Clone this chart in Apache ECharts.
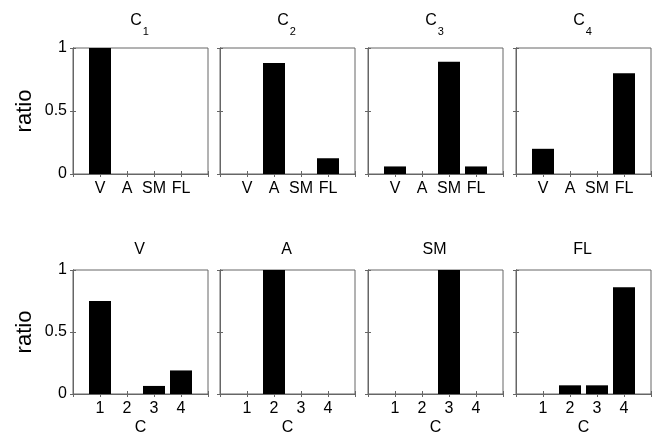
<!DOCTYPE html>
<html>
<head>
<meta charset="utf-8">
<script src="https://cdn.jsdelivr.net/npm/echarts@6/dist/echarts.min.js"></script>
<style>
  html, body { margin: 0; padding: 0; background: #fff; }
  #chart { width: 660px; height: 437px; }
</style>
</head>
<body>
<div id="chart"></div>
<script>
// top row: share of each behaviour inside cluster C1..C4
const behaviours = ["V", "A", "SM", "FL"];
const clusterIds = ["1", "2", "3", "4"];
const c1 = [1, 0, 0, 0];
const c2 = [0, 0.88, 0, 0.125];
const c3 = [0.06, 0, 0.89, 0.06];
const c4 = [0.2, 0, 0, 0.8];
// bottom row: share of each cluster inside behaviour V, A, SM, FL
const bV = [0.75, 0, 0.065, 0.19];
const bA = [0, 1, 0, 0];
const bSM = [0, 0, 1, 0];
const bFL = [0, 0.07, 0.07, 0.86];
const yTicks = [0, 0.5, 1];

const panels = [
  { title: "C{s|1}", data: c1, labels: behaviours, row: 0, col: 0 },
  { title: "C{s|2}", data: c2, labels: behaviours, row: 0, col: 1 },
  { title: "C{s|3}", data: c3, labels: behaviours, row: 0, col: 2 },
  { title: "C{s|4}", data: c4, labels: behaviours, row: 0, col: 3 },
  { title: "V", data: bV, labels: clusterIds, row: 1, col: 0, xName: "C" },
  { title: "A", data: bA, labels: clusterIds, row: 1, col: 1, xName: "C" },
  { title: "SM", data: bSM, labels: clusterIds, row: 1, col: 2, xName: "C" },
  { title: "FL", data: bFL, labels: clusterIds, row: 1, col: 3, xName: "C" }
];

const lefts = [73, 220, 368, 516];
const tops = [48, 270];
const titleTops = [4, 242];
const W = 135, H = 126;
const font = "Liberation Sans, Arial, sans-serif";
const axisCol = "#666";

const grid = [], xAxis = [], yAxis = [], series = [], title = [];
panels.forEach((p, i) => {
  grid.push({ left: lefts[p.col], top: tops[p.row], width: W, height: H,
    show: true, borderColor: axisCol, borderWidth: 1, backgroundColor: "#fff" });
  title.push({
    text: p.title, left: lefts[p.col] + W / 2 - 1, top: titleTops[p.row], textAlign: "center", padding: 0,
    textStyle: { fontFamily: font, fontSize: 16, fontWeight: "normal", color: "#000",
      rich: { s: { fontFamily: font, fontSize: 11, padding: [22, 0, 0, 1], color: "#000" } } }
  });
  const lab = p.labels;
  // bottom & top x axes (ticks inside on both)
  xAxis.push({
    gridIndex: i, type: "value", min: 0, max: 5, interval: 1, position: "bottom",
    axisLine: { show: true, lineStyle: { color: axisCol } },
    axisTick: { show: true, inside: true, length: 3, lineStyle: { color: axisCol } },
    splitLine: { show: false },
    axisLabel: { fontFamily: font, fontSize: 16, color: "#000", margin: 7,
      formatter: v => (v >= 1 && v <= 4 ? lab[v - 1] : "") },
    name: p.xName || "", nameLocation: "middle", nameGap: 26,
    nameTextStyle: { fontFamily: font, fontSize: 16, color: "#000" }
  });
  xAxis.push({
    gridIndex: i, type: "value", min: 0, max: 5, interval: 1, position: "top",
    axisLine: { show: true, lineStyle: { color: axisCol } },
    axisTick: { show: true, inside: true, length: 3, lineStyle: { color: axisCol } },
    splitLine: { show: false }, axisLabel: { show: false }
  });
  yAxis.push({
    gridIndex: i, type: "value", min: 0, max: 1, interval: 0.5, position: "left",
    axisLine: { show: true, lineStyle: { color: axisCol } },
    axisTick: { show: true, inside: true, length: 3, lineStyle: { color: axisCol } },
    splitLine: { show: false },
    axisLabel: { show: p.col === 0, fontFamily: font, fontSize: 16, color: "#000", margin: 6,
      formatter: v => (yTicks.indexOf(v) >= 0 ? String(v) : "") },
    name: p.col === 0 ? "ratio" : "", nameLocation: "middle", nameGap: 37, nameRotate: 90,
    nameTextStyle: { fontFamily: font, fontSize: 22, color: "#000" }
  });
  yAxis.push({
    gridIndex: i, type: "value", min: 0, max: 1, interval: 0.5, position: "right",
    axisLine: { show: true, lineStyle: { color: axisCol } },
    axisTick: { show: true, inside: true, length: 3, lineStyle: { color: axisCol } },
    splitLine: { show: false }, axisLabel: { show: false }
  });
  series.push({
    type: "bar", xAxisIndex: 2 * i, yAxisIndex: 2 * i, barWidth: 22,
    itemStyle: { color: "#000" }, silent: true, animation: false,
    data: p.data.map((v, k) => [k + 1, v])
  });
});

const chart = echarts.init(document.getElementById("chart"));
chart.setOption({ animation: false, backgroundColor: "#fff", title, grid, xAxis, yAxis, series });
</script>
</body>
</html>
